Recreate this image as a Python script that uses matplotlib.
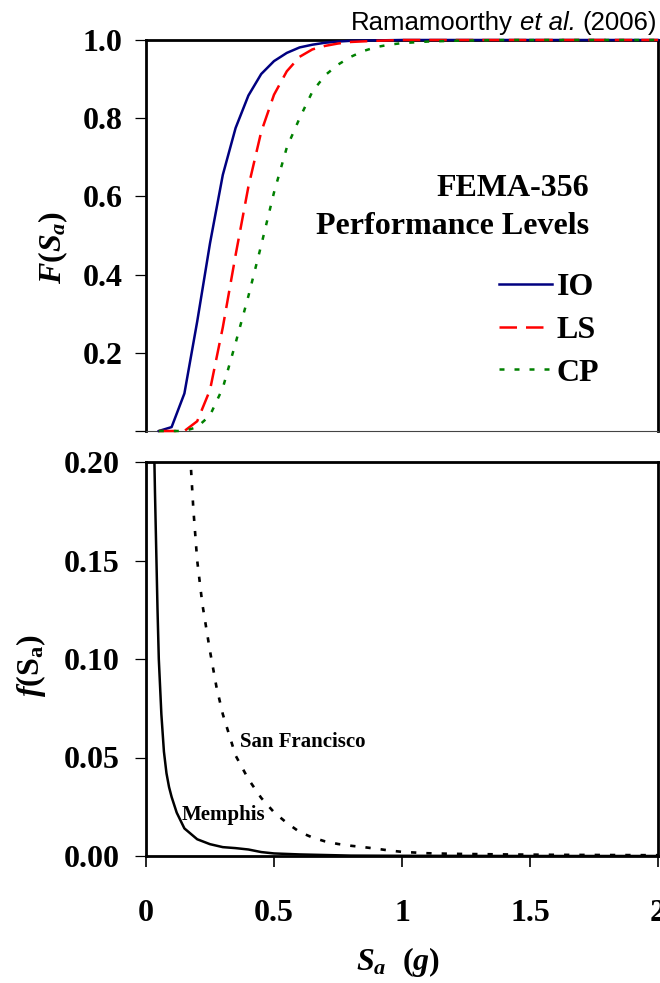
import matplotlib
matplotlib.use("Agg")
import matplotlib.pyplot as plt
from matplotlib.offsetbox import TextArea, HPacker, AnchoredOffsetbox

plt.rcParams['font.family'] = ['Liberation Serif', 'DejaVu Serif']
plt.rcParams['font.weight'] = 'bold'
plt.rcParams['mathtext.fontset'] = 'custom'
plt.rcParams['mathtext.rm'] = 'Liberation Serif:bold'
plt.rcParams['mathtext.it'] = 'Liberation Serif:italic:bold'
plt.rcParams['mathtext.bf'] = 'Liberation Serif:bold'

# fragility curves F(Sa) for the FEMA-356 performance levels
sa_io = [0.05, 0.1, 0.15, 0.2, 0.25, 0.3, 0.35, 0.4, 0.45, 0.5, 0.55, 0.6,
         0.65, 0.7, 0.75, 0.8, 0.9, 1.0, 1.5, 2.0]
F_io = [0.0, 0.01, 0.096, 0.28, 0.48, 0.655, 0.775, 0.858, 0.913, 0.946,
        0.967, 0.981, 0.988, 0.993, 0.996, 0.998, 0.999, 1.0, 1.0, 1.0]

sa_ls = [0.05, 0.1, 0.15, 0.2, 0.25, 0.3, 0.35, 0.4, 0.45, 0.5, 0.55, 0.6,
         0.65, 0.7, 0.75, 0.8, 0.9, 1.0, 1.5, 2.0]
F_ls = [0.0, 0.0, 0.0, 0.025, 0.105, 0.265, 0.45, 0.625, 0.765, 0.86, 0.92,
        0.957, 0.976, 0.985, 0.991, 0.995, 0.998, 1.0, 1.0, 1.0]

sa_cp = [0.05, 0.1, 0.15, 0.2, 0.25, 0.3, 0.35, 0.4, 0.45, 0.5, 0.55, 0.6,
         0.65, 0.7, 0.75, 0.8, 0.85, 0.9, 0.95, 1.0, 1.1, 1.2, 1.4, 2.0]
F_cp = [0.0, 0.0, 0.0, 0.01, 0.04, 0.11, 0.225, 0.345, 0.475, 0.61, 0.725,
        0.80, 0.868, 0.91, 0.937, 0.957, 0.972, 0.982, 0.988, 0.992, 0.996,
        0.998, 1.0, 1.0]

# hazard densities f(Sa)
sa_mem = [0.03, 0.035, 0.04, 0.045, 0.05, 0.06, 0.07, 0.08, 0.09, 0.1, 0.12,
          0.15, 0.2, 0.25, 0.3, 0.35, 0.4, 0.45, 0.5, 0.6, 0.7, 0.8, 1.0,
          1.5, 2.0]
f_mem = [0.22, 0.185, 0.155, 0.125, 0.10, 0.072, 0.053, 0.042, 0.035, 0.030,
         0.022, 0.014, 0.0085, 0.006, 0.0045, 0.004, 0.0033, 0.002, 0.0013,
         0.0008, 0.0005, 0.0002, 0.0001, 0.0, 0.0]

sa_sf = [0.176, 0.185, 0.2, 0.22, 0.25, 0.275, 0.3, 0.35, 0.4, 0.45, 0.5,
         0.55, 0.6, 0.65, 0.7, 0.75, 0.8, 0.85, 0.9, 0.95, 1.0, 1.1, 1.2,
         1.4, 1.6, 1.8, 2.0]
f_sf = [0.196, 0.176, 0.15, 0.128, 0.104, 0.086, 0.072, 0.051, 0.039, 0.0295,
        0.0222, 0.0168, 0.0122, 0.0094, 0.0074, 0.0061, 0.0052, 0.0045,
        0.0037, 0.0028, 0.0021, 0.0014, 0.0011, 0.0008, 0.0006, 0.0005,
        0.0004]

top_ticks = [0, 0.2, 0.4, 0.6, 0.8, 1.0]
top_labels = ['', '0.2', '0.4', '0.6', '0.8', '1.0']
bot_ticks = [0, 0.05, 0.10, 0.15, 0.20]
bot_labels = ['0.00', '0.05', '0.10', '0.15', '0.20']
x_ticks = [0, 0.5, 1, 1.5, 2]
x_labels = ['0', '0.5', '1', '1.5', '2']

W, H = 660, 983
fig = plt.figure(figsize=(W / 100, H / 100), dpi=100)
ax1 = fig.add_axes([146 / W, 1 - 431 / H, 512 / W, 391 / H])
ax2 = fig.add_axes([146 / W, 1 - 856 / H, 512 / W, 394 / H])

fs = 23

# top panel
ax1.plot(sa_io, F_io, color='#000080', lw=1.8, zorder=3, clip_on=False, label='IO')
ax1.plot(sa_ls, F_ls, color='#ff0000', lw=1.8, dashes=(7, 3.6), zorder=3,
         clip_on=False, label='LS')
ax1.plot(sa_cp, F_cp, color='#008000', lw=1.8, dashes=(2, 4), zorder=3,
         clip_on=False, label='CP')
ax1.set_xlim(0, 2)
ax1.set_ylim(0, 1.0)
ax1.set_xticks([])
ax1.set_yticks(top_ticks)
ax1.set_yticklabels(top_labels)
ax1.tick_params(axis='y', direction='out', length=8, width=0.9, pad=9,
                labelsize=fs)
for s in ['left', 'top', 'right']:
    ax1.spines[s].set_linewidth(2)
ax1.spines['bottom'].set_linewidth(0.8)
ax1.spines['bottom'].set_color('#444444')

ax1.text(1.73, 0.621, 'FEMA-356', ha='right', va='center', fontsize=fs)
ax1.text(1.73, 0.524, 'Performance Levels', ha='right', va='center', fontsize=fs)

leg = ax1.legend(loc='center left', bbox_to_anchor=(0.689, 0.258),
                 frameon=False, fontsize=fs, handlelength=1.66,
                 handletextpad=0.15, labelspacing=0.42, borderpad=0,
                 borderaxespad=0)

# bottom panel
ax2.plot(sa_mem, f_mem, color='black', lw=1.8)
ax2.plot(sa_sf, f_sf, color='black', lw=1.9, dashes=(2, 3.8))
ax2.set_xlim(0, 2)
ax2.set_ylim(0, 0.2)
ax2.set_xticks(x_ticks)
ax2.set_xticklabels(x_labels)
ax2.set_yticks(bot_ticks)
ax2.set_yticklabels(bot_labels)
ax2.tick_params(axis='y', direction='out', length=8, width=0.9, pad=11,
                labelsize=fs)
ax2.tick_params(axis='x', direction='out', length=8, width=1.2, pad=23,
                labelsize=fs)
for s in ax2.spines.values():
    s.set_linewidth(2)

ax2.text(0.368, 0.058, 'San Francisco', ha='left', va='center', fontsize=15)
ax2.text(0.141, 0.0208, 'Memphis', ha='left', va='center', fontsize=15)

# axis titles
fig.text(53 / W, 1 - 247 / H, r'$F(S_a)$', rotation=90, ha='center',
         va='center', fontsize=fs)
fig.text(31 / W, 1 - 666 / H, r'$f(\mathrm{S_a})$', rotation=90, ha='center',
         va='center', fontsize=fs)
fig.text(398 / W, 1 - 962 / H, r'$S_a\ \ (g)$', ha='center', va='center',
         fontsize=fs)

# citation, top right
tp = dict(family='Liberation Sans', size=18.5, weight='normal')
parts = [TextArea('Ramamoorthy', textprops=tp),
         TextArea('et al.', textprops=dict(tp, style='italic')),
         TextArea('(2006)', textprops=tp)]
box = HPacker(children=parts, pad=0, sep=5, align='baseline')
anch = AnchoredOffsetbox(loc='upper right', child=box, pad=0, borderpad=0,
                         frameon=False, bbox_to_anchor=(657 / W, 1 - 11 / H),
                         bbox_transform=fig.transFigure)
fig.add_artist(anch)

fig.savefig('out.png', dpi=100)
